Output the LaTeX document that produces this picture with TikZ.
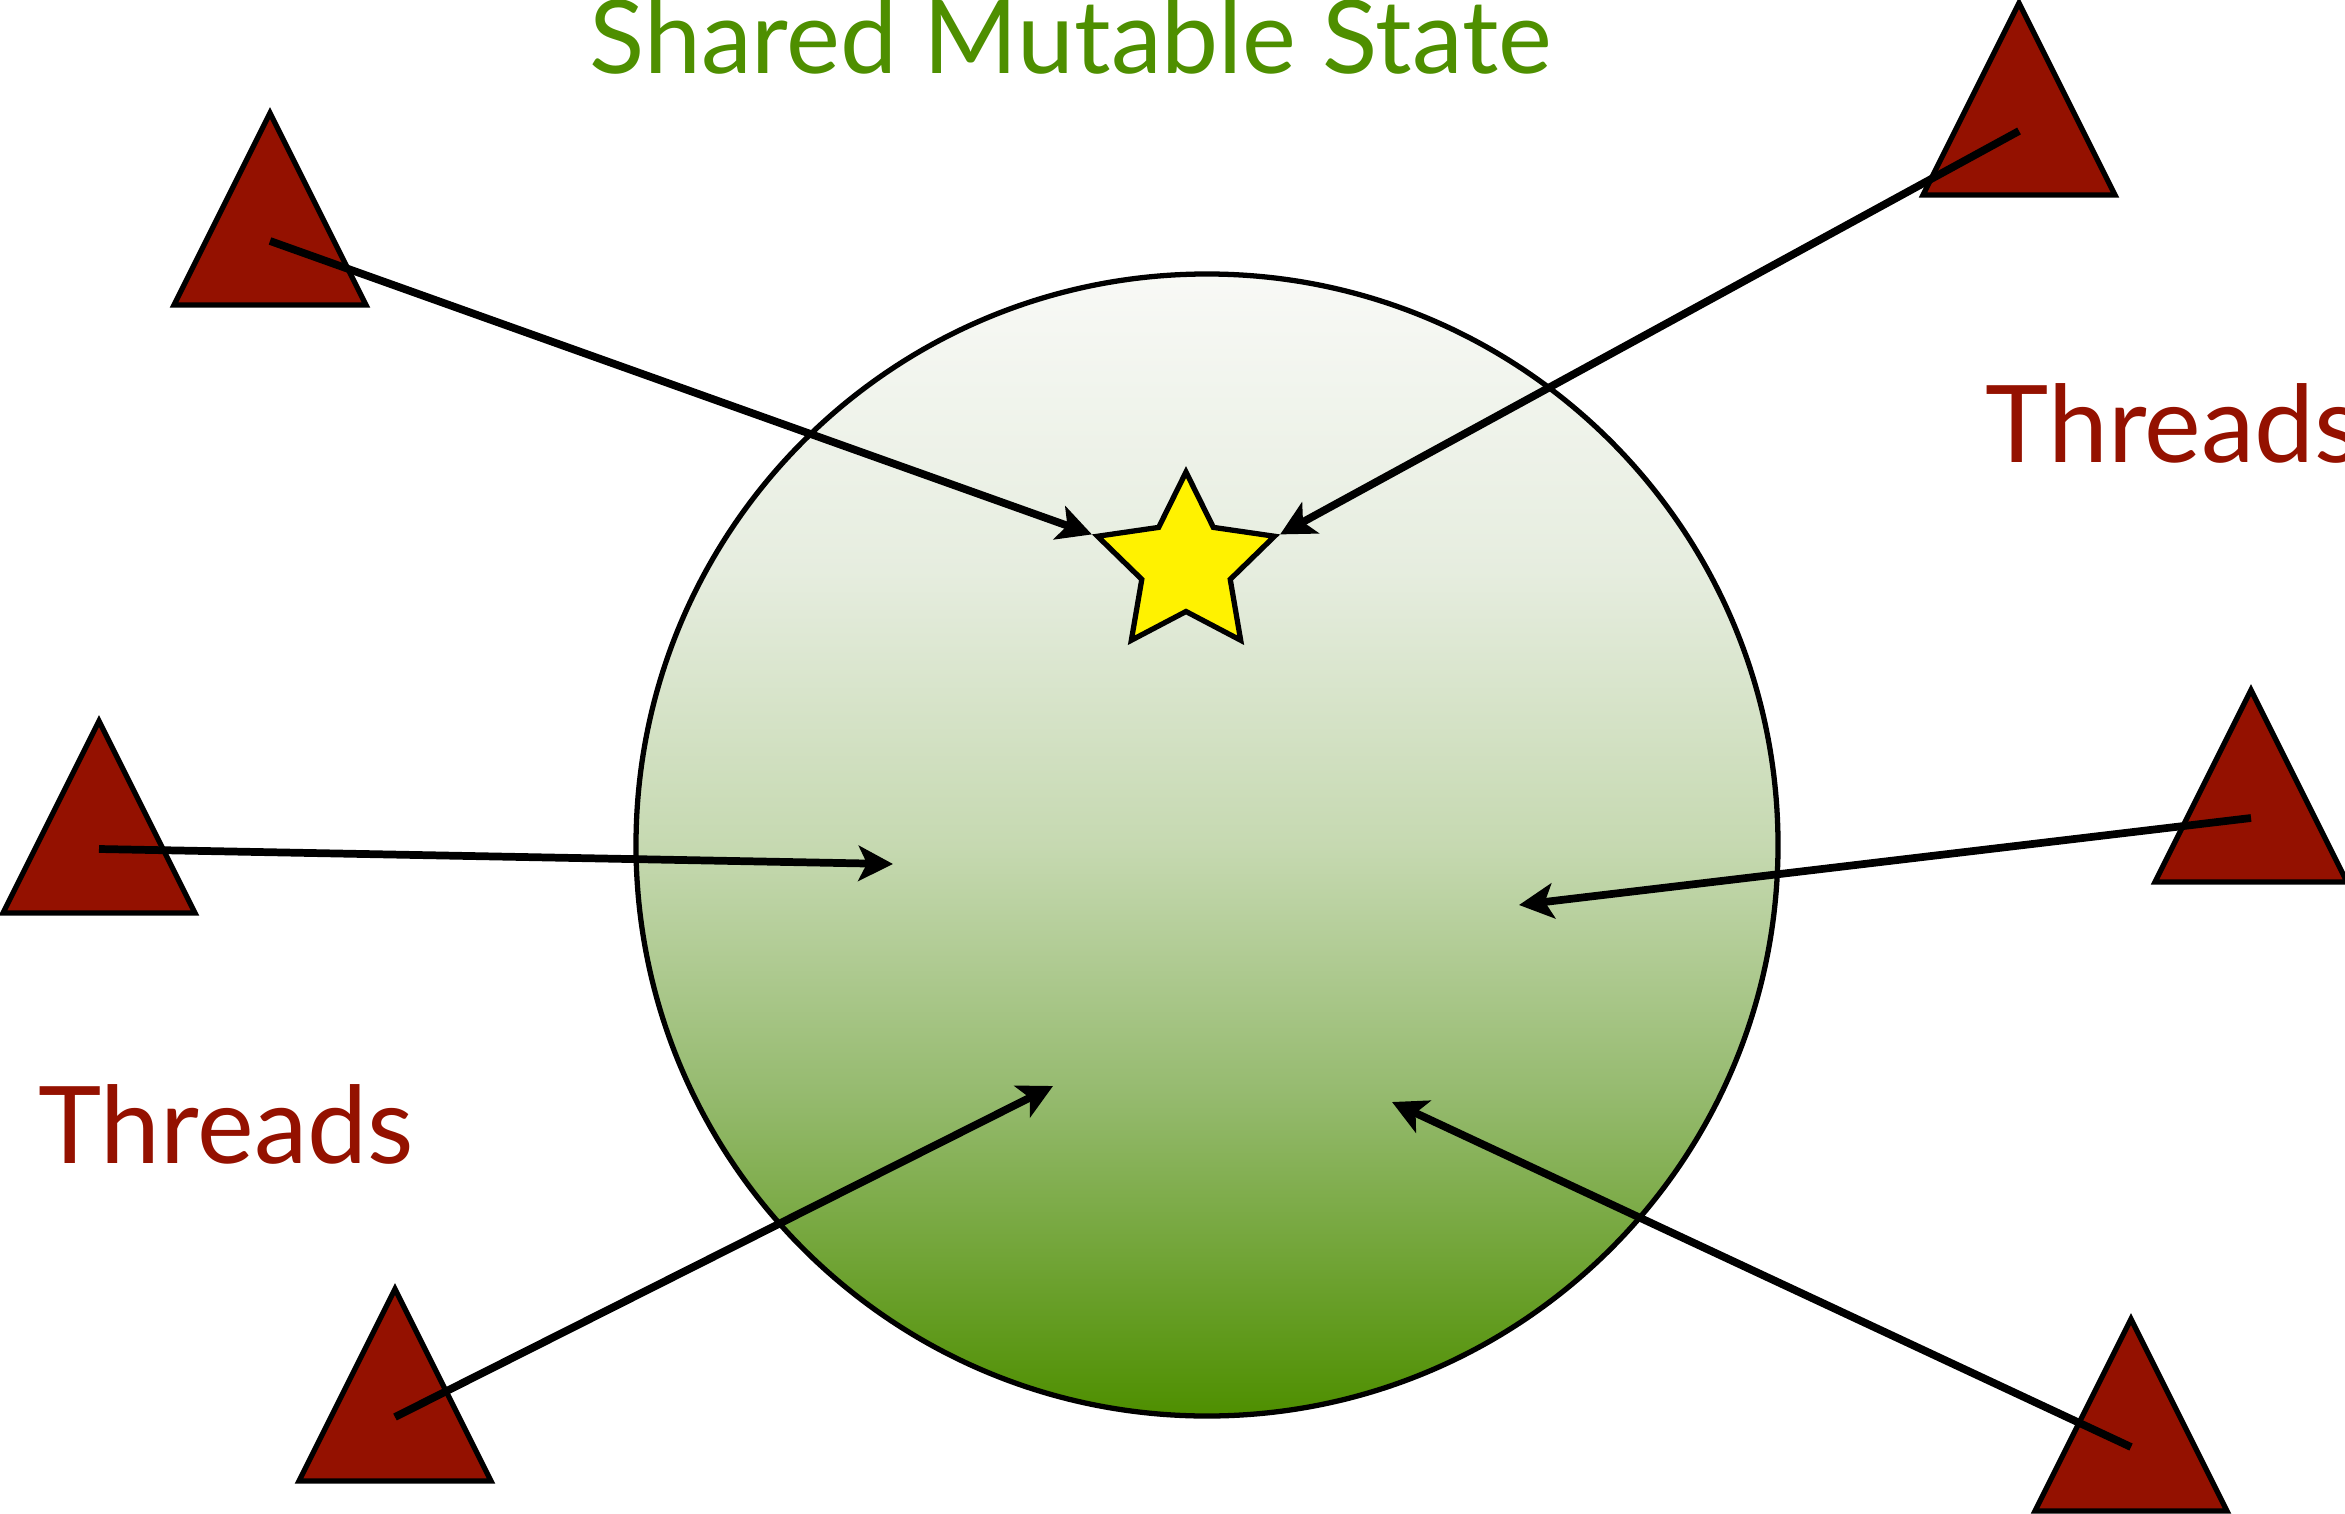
\documentclass[tikz,border=0pt]{standalone}
\usepackage{fontspec}
\setmainfont{Lato}
\usepackage{tikz}
\usetikzlibrary{arrows.meta,shapes.geometric}
\definecolor{stategreen}{HTML}{4E8F00}
\definecolor{threadred}{HTML}{941100}
\definecolor{gtop}{HTML}{F8F9F6}
\definecolor{gquart}{HTML}{E6EDDF}
\definecolor{ghalf}{HTML}{C6D9B1}
\definecolor{glow}{HTML}{95BA6E}
\pgfdeclareverticalshading{stategrad}{100bp}{color(0bp)=(stategreen);
    color(25bp)=(stategreen); color(39bp)=(glow); color(50bp)=(ghalf);
    color(62bp)=(gquart); color(75bp)=(gtop); color(100bp)=(gtop)}
\tikzset {
    statecircle/.style={circle, draw, line width=1.5pt, shade, shading=stategrad,
        minimum size=11.42cm, inner sep=0pt},
    datastar/.style={star, star points=5, star point ratio=2, draw,
        line width=1.5pt, fill=yellow, minimum size=1.86cm, inner sep=0pt},
    threadfill/.style={draw, line width=1.5pt, fill=threadred, line join=miter},
    thread/.pic={\draw[threadfill] (-0.96,-0.64) -- (0.96,-0.64) -- (0,1.28) -- cycle;},
    flow/.style={draw, line width=2.2pt,
        -{Stealth[length=9.8pt, width=10pt, inset=2.4pt]}},
    bigtext/.style={font=\fontsize{30.5}{36}\selectfont, inner sep=0pt, anchor=base}
}

\begin{document}
\begin{tikzpicture}
    \useasboundingbox (0,0) rectangle (23.45,-15.13);

    \node[statecircle] (shared) at (12.07,-8.45) {};

    \foreach \n/\x/\y in {t1/2.70/-2.41, t2/20.19/-1.31, t3/0.99/-8.49,
        t4/22.51/-8.18, t5/3.95/-14.17, t6/21.31/-14.47} {
        \coordinate (\n) at (\x,\y);
        \pic at (\n) {thread};
    }

    \node[datastar] (st) at (11.86,-5.65) {};

    \coordinate (e3) at (8.93,-8.64);
    \coordinate (e4) at (15.19,-9.05);
    \coordinate (e5) at (10.53,-10.86);
    \coordinate (e6) at (13.92,-11.02);

    \draw[flow] (t1) -- (st.outer point 2);
    \draw[flow] (t2) -- (st.outer point 5);
    \draw[flow] (t3) -- (e3);
    \draw[flow] (t4) -- (e4);
    \draw[flow] (t5) -- (e5);
    \draw[flow] (t6) -- (e6);

    \node[bigtext, text=stategreen, font=\fontsize{29}{34}\selectfont] (title)
        at (10.71,-0.74) {Shared Mutable State};
    \node[bigtext, text=threadred] (lthreads) at (2.26,-11.63) {Threads};
    \node[bigtext, text=threadred, anchor=base west] (rthreads) at (19.85,-4.62) {Threads};

\end{tikzpicture}
\end{document}
